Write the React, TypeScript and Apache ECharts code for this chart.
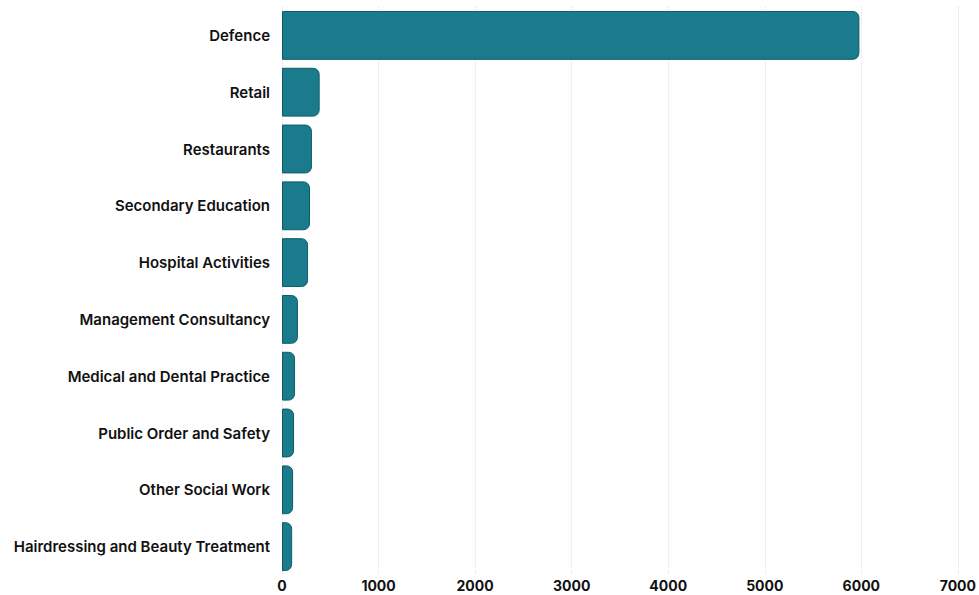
import React, { useEffect, useRef } from "react";
import * as echarts from "echarts";

const categories = [
  "Defence",
  "Retail",
  "Restaurants",
  "Secondary Education",
  "Hospital Activities",
  "Management Consultancy",
  "Medical and Dental Practice",
  "Public Order and Safety",
  "Other Social Work",
  "Hairdressing and Beauty Treatment",
];
const values = [5980, 390, 310, 290, 270, 165, 135, 125, 115, 105];
const xTicks = [0, 1000, 2000, 3000, 4000, 5000, 6000, 7000];

export default function App() {
  const ref = useRef<HTMLDivElement>(null);
  useEffect(() => {
    const chart = echarts.init(ref.current!, null, { renderer: "svg" });
    chart.setOption({
      animation: false,
      backgroundColor: "#ffffff",
      grid: { left: 282, right: 21, top: 7, bottom: 20, containLabel: false },
      xAxis: {
        type: "value",
        min: xTicks[0],
        max: xTicks[xTicks.length - 1],
        interval: 1000,
        axisLine: { show: false },
        axisTick: { show: false },
        axisLabel: {
          color: "#111",
          fontFamily: "Inter",
          fontWeight: "bold",
          fontSize: 14,
          margin: 3,
          lineHeight: 14,
          formatter: (v: number) => String(v),
        },
        splitLine: { show: true, lineStyle: { color: "#e0e0e0", type: "dotted", width: 1 } },
      },
      yAxis: {
        type: "category",
        data: categories,
        inverse: true,
        axisLine: { show: false },
        axisTick: { show: false },
        axisLabel: {
          color: "#111",
          fontFamily: "Inter",
          fontWeight: 600,
          fontSize: 15,
          margin: 12,
        },
      },
      series: [
        {
          type: "bar",
          data: values,
          barCategoryGap: "14%",
          itemStyle: {
            color: "#1a7b8d",
            borderColor: "#0f5a68",
            borderWidth: 1,
            borderRadius: [0, 6, 6, 0],
          },
        },
      ],
    });
    return () => chart.dispose();
  }, []);
  return <div ref={ref} style={{ width: 979, height: 595, position: "absolute", left: 0, top: 0 }} />;
}
